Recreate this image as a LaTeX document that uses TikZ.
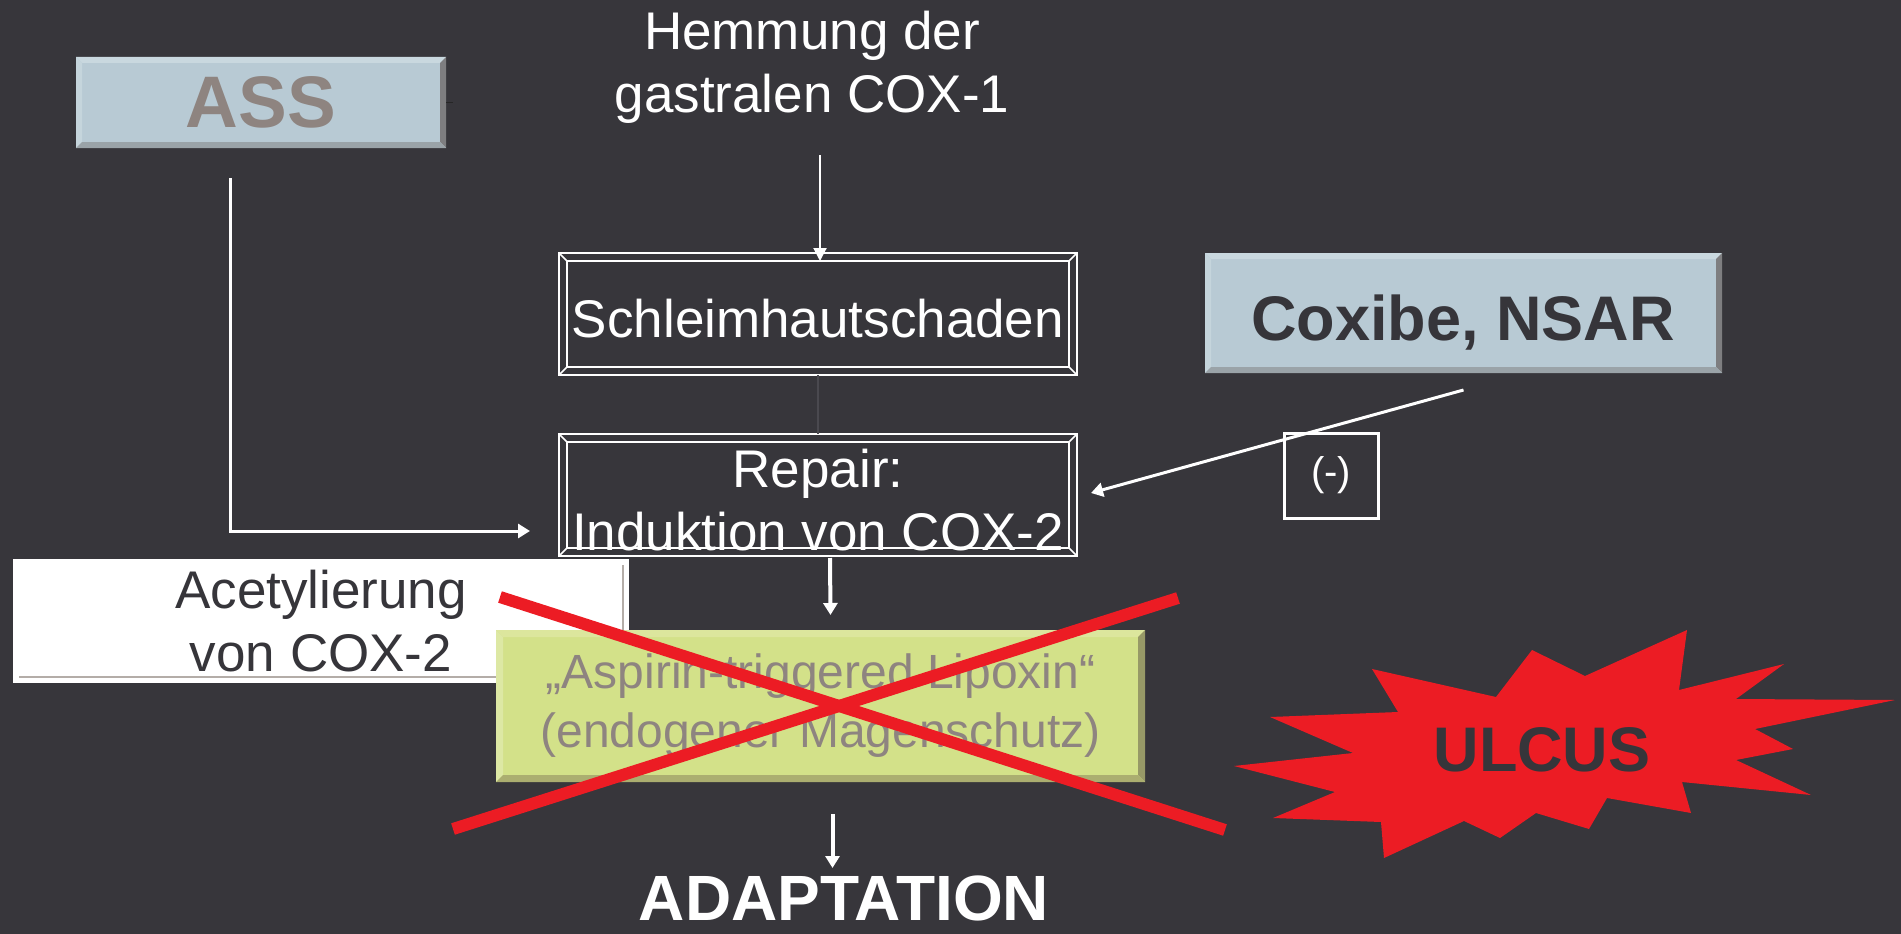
\documentclass[tikz,border=0pt]{standalone}
\usepackage{fontspec}
\setmainfont{Liberation Sans}
\usetikzlibrary{arrows.meta,calc}
\definecolor{bg}{HTML}{37363B}
\definecolor{boxblue}{HTML}{B8CAD4}
\definecolor{bluetop}{HTML}{C9D8DF}
\definecolor{blueleft}{HTML}{C5D5DC}
\definecolor{blueright}{HTML}{7E7E80}
\definecolor{bluebot}{HTML}{9AA3A8}
\definecolor{asstxt}{HTML}{8E8480}
\definecolor{darktxt}{HTML}{36353A}
\definecolor{boxgreen}{HTML}{D3E189}
\definecolor{greentop}{HTML}{DCE69D}
\definecolor{greenleft}{HTML}{DDE8A4}
\definecolor{greenright}{HTML}{979967}
\definecolor{greenbot}{HTML}{ABAE70}
\definecolor{redx}{HTML}{EC1C24}
\definecolor{faint}{HTML}{4A494F}
\definecolor{acetline}{HTML}{B4ADA8}
\newcommand\bvbox[6]{%
 \fill[#3] (#1.north west) -- (#1.north east) -- ($(#1.north east)+(-#2,#2)$) -- ($(#1.north west)+(#2,#2)$) -- cycle;
 \fill[#4] (#1.north west) -- ($(#1.north west)+(#2,#2)$) -- ($(#1.south west)+(#2,-#2)$) -- (#1.south west) -- cycle;
 \fill[#5] (#1.north east) -- ($(#1.north east)+(-#2,#2)$) -- ($(#1.south east)+(-#2,-#2)$) -- (#1.south east) -- cycle;
 \fill[#6] (#1.south west) -- ($(#1.south west)+(#2,-#2)$) -- ($(#1.south east)+(-#2,-#2)$) -- (#1.south east) -- cycle;
}
\newcommand\frbox[2]{%
 \draw[white,line width=2] ($(#1.north west)+(#2,#2)$) rectangle ($(#1.south east)+(-#2,-#2)$);
 \draw[white,line width=1.5] (#1.north west) -- ++(#2,#2) (#1.north east) -- ++(-#2,#2) (#1.south west) -- ++(#2,-#2) (#1.south east) -- ++(-#2,-#2);
}
\tikzset{
 basebox/.style={inner sep=0pt, outer sep=0pt, align=center},
 bluebox/.style={basebox, fill=boxblue},
 greenbox/.style={basebox, fill=boxgreen, text=asstxt},
 framebox/.style={basebox, draw=white, line width=2, text=white},
 wtext/.style={inner sep=0pt, align=center, text=white},
 conn/.style={white, line width=3, -{Triangle[width=14pt,length=12pt]}},
 thinconn/.style={white, line width=2, -{Triangle[width=13pt,length=13pt]}},
 crossline/.style={redx, line width=12},
 f53/.style={font=\fontsize{53}{63}\selectfont},
}
\begin{document}
\begin{tikzpicture}[x=1pt,y=-1pt]
\fill[bg] (0,0) rectangle (1901,934);
\useasboundingbox (0,0) rectangle (1901,934);

% ASS box
\node[bluebox, minimum width=370, minimum height=91, text=asstxt, font=\bfseries\fontsize{73}{80}\selectfont] (ass) at (261,102.5) {ASS};
\bvbox{ass}{6}{bluetop}{blueleft}{blueright}{bluebot}
\draw[black!85, line width=1.5] (ass.east) -- ++(7,0);

% Hemmung text
\node[wtext, f53] (hem) at (812,67) {Hemmung der\\gastralen COX-1};

% Schleimhautschaden
\node[framebox, minimum width=518, minimum height=122] (sch) at (818,314) {};
\frbox{sch}{8}
\node[wtext, f53, text depth=0pt] (schtxt) at (818,318) {Schleimhautschaden};

% Repair
\node[framebox, minimum width=518, minimum height=122] (rep) at (818,495) {};
\frbox{rep}{8}
\node[wtext, f53] (reptxt) at (818,500) {Repair:\\Induktion von COX-2};

% Coxibe
\node[bluebox, minimum width=517, minimum height=120] (cox) at (1463.5,313) {};
\bvbox{cox}{6}{bluetop}{blueleft}{blueright}{bluebot}
\node[inner sep=0pt, text depth=0pt, text=darktxt, font=\bfseries\fontsize{63}{70}\selectfont] (coxtxt) at (1463,318) {Coxibe, NSAR};

% (-) box
\node[basebox, draw=white, line width=3, minimum width=94, minimum height=85, text=white, font=\fontsize{40}{46}\selectfont] (neg) at (1331,475.5) {(-)};

% Acetylierung
\node[basebox, fill=white, minimum width=616, minimum height=124, text=darktxt, f53] (ace) at (321,621) {Acetylierung\\von COX-2};
\draw[acetline, line width=2] ($(ace.south west)+(6,-6)$) -- ($(ace.south east)+(-6,-6)$) -- ($(ace.north east)+(-6,6)$);

% Lipoxin
\node[greenbox, minimum width=649, minimum height=152, font=\fontsize{48}{59}\selectfont] (lip) at (820.5,706) {„Aspirin-triggered Lipoxin“\\(endogener Magenschutz)};
\bvbox{lip}{7}{greentop}{greenleft}{greenright}{greenbot}

% ADAPTATION
\node[inner sep=0pt, anchor=base, text=white, font=\bfseries\fontsize{64}{70}\selectfont] (ada) at (844,920) {ADAPTATION};

% ULCUS starburst
\fill[redx] (1234,766) -- (1353,753) -- (1270,717) -- (1398,712) -- (1372,669) -- (1496,697) -- (1532,650) -- (1585,676) -- (1687,630) -- (1679,690) -- (1784,664) -- (1736,699) -- (1895,700) -- (1755,729) -- (1793,749) -- (1736,760) -- (1811,795) -- (1682,782) -- (1691,813) -- (1607,798) -- (1589,829) -- (1536,813) -- (1500,838) -- (1464,821) -- (1384,858) -- (1381,822) -- (1273,818) -- (1335,792) -- cycle;
\node[inner sep=0pt, text=darktxt, font=\bfseries\fontsize{63}{70}\selectfont] (ulc) at (1542,750) {ULCUS};

% connectors
\coordinate (hemb) at (820,155);
\draw[thinconn] (hemb) -- ($(sch.north)+(2,8)$);
\draw[faint, line width=1.5] (sch.south) -- (rep.north);
\coordinate (assb) at (230,178);
\draw[conn] (assb) |- ($(rep.west)+(-29,36)$);
\draw[conn] ($(cox.south)+(0,17)$) -- ($(rep.east)+(14,-2)$);
\draw[conn, line width=4] ($(rep.south)+(12,2)$) -- ($(lip.north)+(10,-15)$);
\draw[conn, line width=4] ($(lip.south)+(12,32)$) -- ($(lip.south)+(12,86)$);

% red cross
\draw[crossline] (500,597) -- (1225,830);
\draw[crossline] (453,829) -- (1178,598);
\end{tikzpicture}
\end{document}
